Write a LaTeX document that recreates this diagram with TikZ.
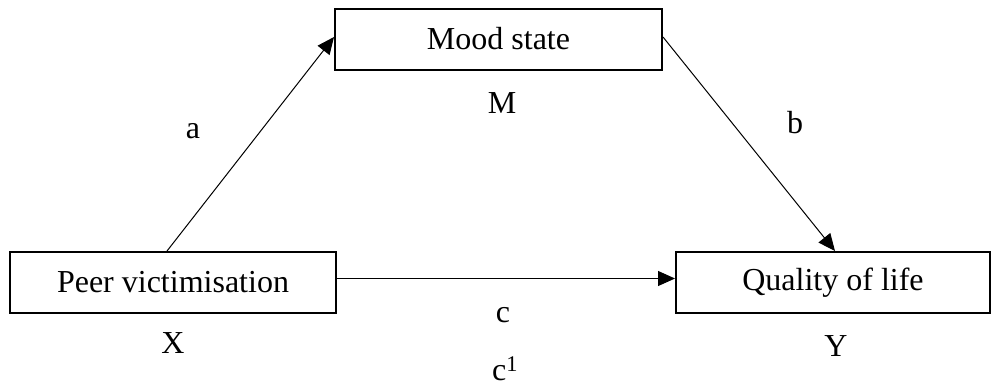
\documentclass[tikz,border=0pt]{standalone}
\usepackage{fontspec}
\setmainfont{Liberation Serif}
\usetikzlibrary{arrows.meta}

\begin{document}
\begin{tikzpicture}[x=1pt,y=-1pt,
        varbox/.style={draw=black, line width=2pt, minimum height=61pt, inner sep=0pt},
        path/.style={line width=1pt, -{Triangle[length=17pt,width=15pt]}},
        lbl/.style={inner sep=0pt}]
        \fontsize{32}{38}\selectfont
        % Fix the page size
        \useasboundingbox (0,0) rectangle (992,386);
        
        % Draw variable boxes
        \node[varbox, minimum width=327pt] (mood) at (498.5,39) {Mood state}; % Mediator
        \node[varbox, minimum width=326pt] (peer) at (173,282.5) {Peer victimisation}; % Predictor
        \node[varbox, minimum width=314pt] (qol) at (833,282.5) {Quality of life}; % Outcome
        
        % Draw paths
        \draw[path] ([xshift=-6pt]peer.north) -- ([yshift=2pt]mood.west); % a path
        \draw[path] ([yshift=2pt]mood.east) -- ([xshift=2pt]qol.north); % b path
        \draw[path] ([yshift=4pt]peer.east) -- ([yshift=4pt]qol.west); % c path
        
        % Draw labels
        \node[lbl] (lblM) at (502,103) {M};
        \node[lbl] (lbla) at (193,131) {a};
        \node[lbl] (lblb) at (795,123) {b};
        \node[lbl] (lblc) at (503,315) {c};
        \node[lbl] (lblX) at (173,343) {X};
        \node[lbl] (lblY) at (836,346) {Y};
        \node[lbl] (lblc1) at (505,369) {c\textsuperscript{1}};
        \end{tikzpicture}
\end{document}
